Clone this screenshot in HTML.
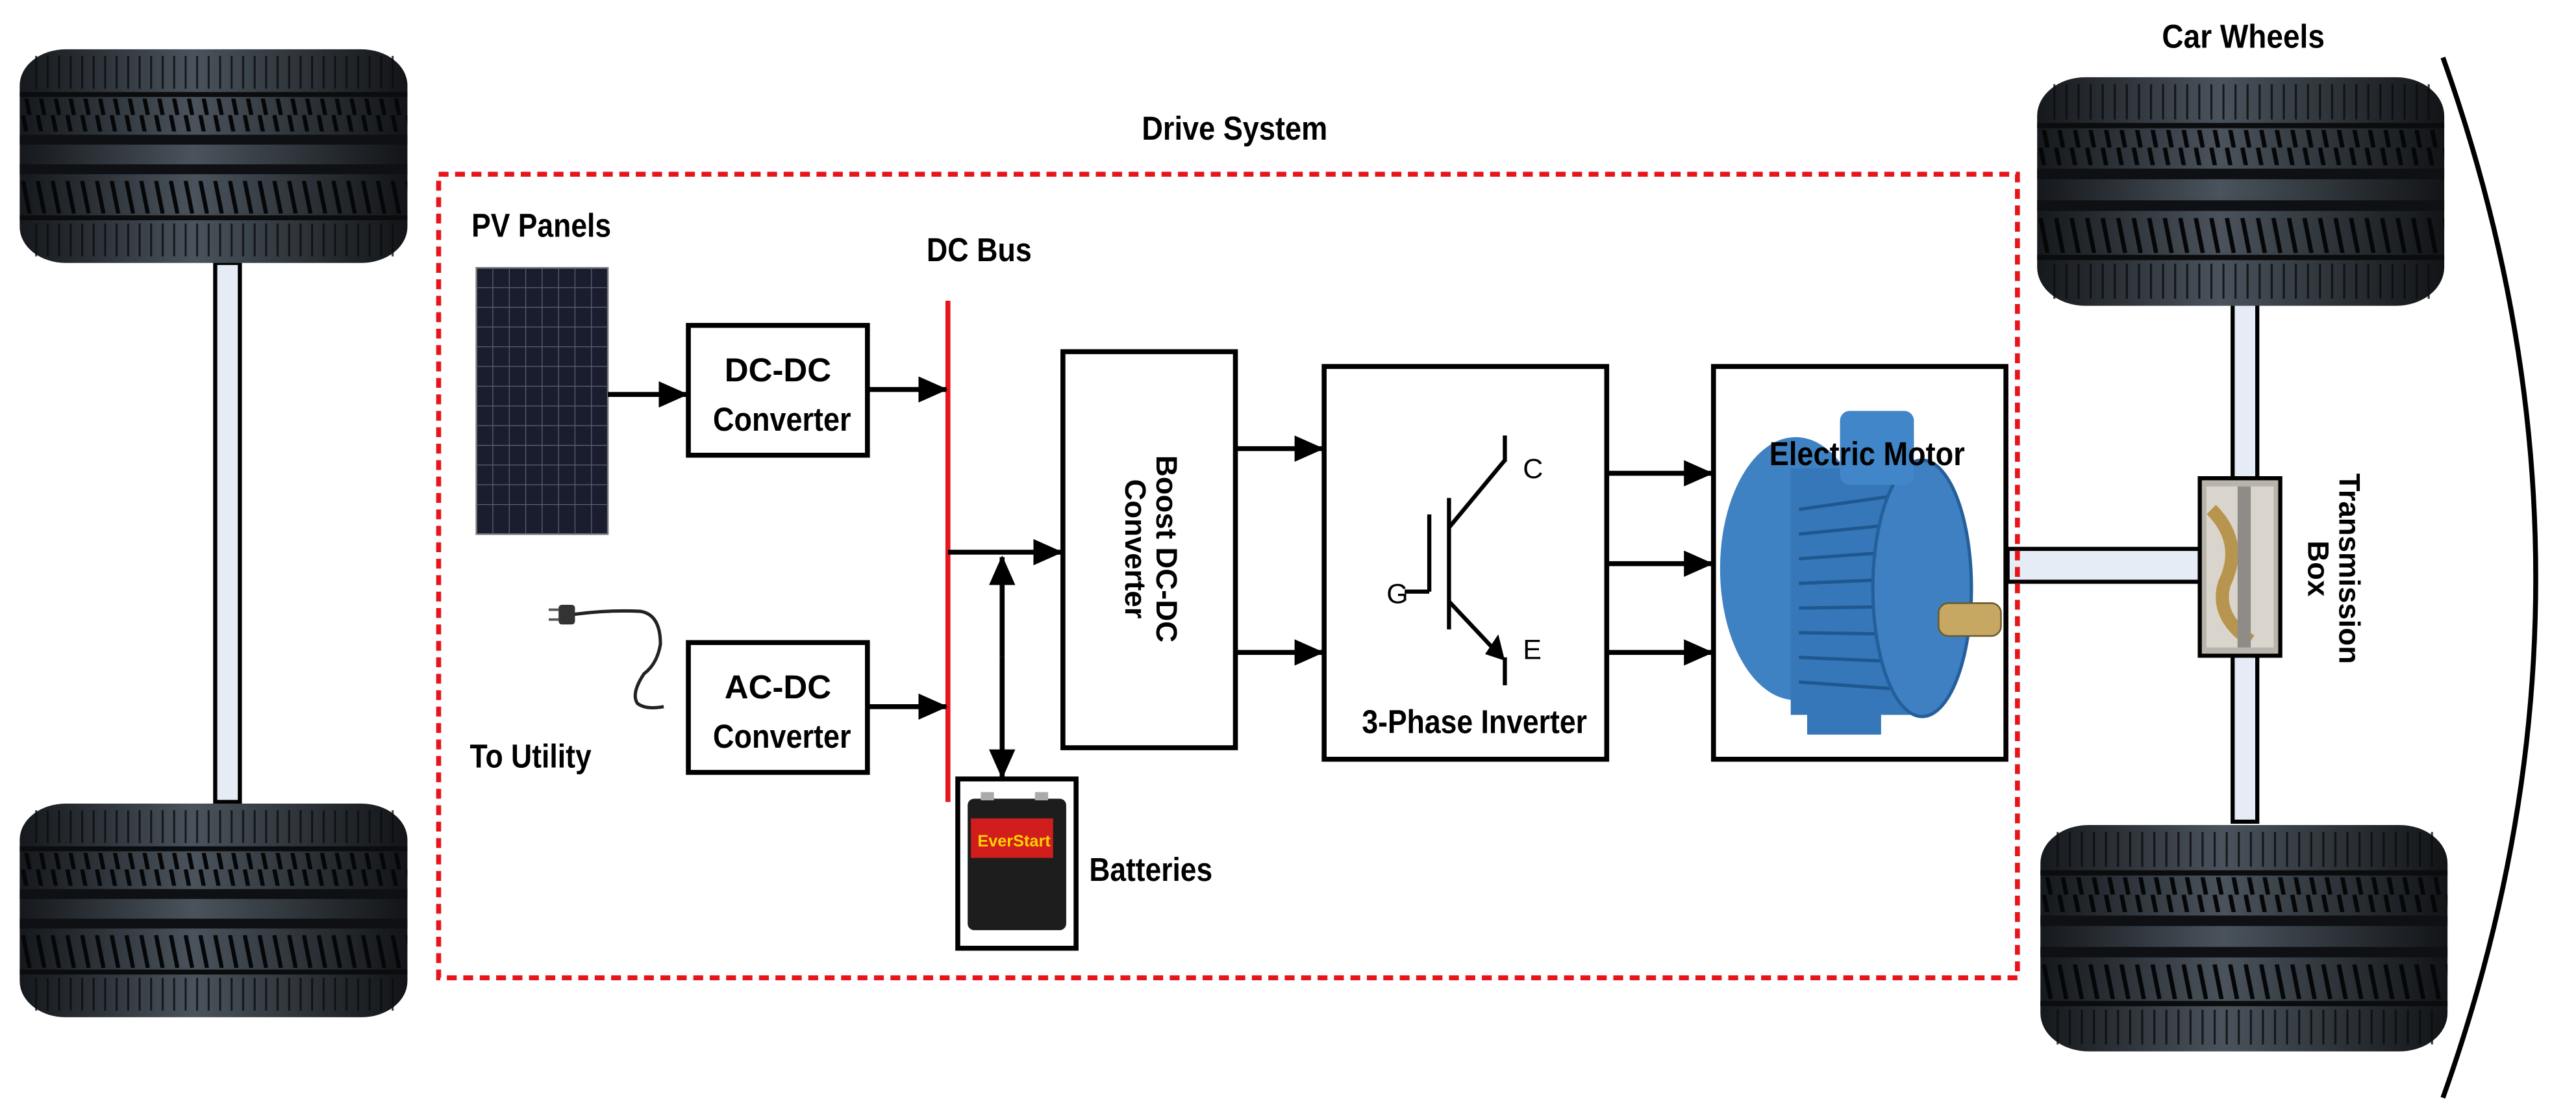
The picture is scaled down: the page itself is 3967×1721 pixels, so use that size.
<!DOCTYPE html>
<html><head><meta charset="utf-8"><style>
html,body{margin:0;padding:0;background:#fff;}
svg{display:block}
.t{font-family:"Liberation Sans",sans-serif;font-weight:bold;fill:#000}
.w{font-family:"Liberation Sans",sans-serif;font-weight:bold;fill:#000}
</style></head><body>
<svg width="3967" height="1721" viewBox="0 0 1568 680.3" preserveAspectRatio="none" xmlns="http://www.w3.org/2000/svg">
<defs>
<linearGradient id="tg" x1="0" y1="0" x2="1" y2="0">
<stop offset="0" stop-color="#15181c"/><stop offset="0.45" stop-color="#4a535c"/><stop offset="0.6" stop-color="#3a4249"/><stop offset="1" stop-color="#121417"/>
</linearGradient>
<pattern id="tread" width="9" height="20" patternUnits="userSpaceOnUse">
<rect width="9" height="20" fill="none"/><line x1="2" y1="0" x2="6" y2="20" stroke="#050607" stroke-width="2.5"/>
</pattern>
<pattern id="rib" width="7" height="20" patternUnits="userSpaceOnUse">
<line x1="3" y1="0" x2="3" y2="20" stroke="#0a0b0d" stroke-width="1.2"/>
</pattern>
<g id="tire">
<rect x="0" y="0" width="236" height="130" rx="28" ry="22" fill="url(#tg)"/>
<rect x="4" y="4" width="228" height="20" fill="url(#rib)" opacity="0.8"/>
<rect x="4" y="106" width="228" height="20" fill="url(#rib)" opacity="0.8"/>
<rect x="0" y="30" width="236" height="20" fill="url(#tread)"/>
<rect x="0" y="80" width="236" height="20" fill="url(#tread)"/>
<rect x="0" y="26" width="236" height="3" fill="#0b0c0e"/>
<rect x="0" y="52" width="236" height="6" fill="#0e1013"/>
<rect x="0" y="70" width="236" height="6" fill="#0e1013"/>
<rect x="0" y="101" width="236" height="3" fill="#0b0c0e"/>
</g>
<marker id="ah" markerWidth="18" markerHeight="16" refX="17" refY="8" orient="auto" markerUnits="userSpaceOnUse"><path d="M0,0 L18,8 L0,16 z" fill="#000"/></marker>
</defs>

<rect x="131" y="160" width="15" height="328" fill="#e6ecf5" stroke="#000" stroke-width="2.5"/>
<use href="#tire" x="12" y="30"/>
<use href="#tire" x="12" y="489"/>

<rect x="1359" y="180" width="15" height="320" fill="#e6ecf5" stroke="#000" stroke-width="2.5"/>
<use href="#tire" x="1240" y="47" transform="translate(1240 47) scale(1.05 1.07) translate(-1240 -47)"/>
<use href="#tire" x="1242" y="502" transform="translate(1242 502) scale(1.05 1.06) translate(-1242 -502)"/>
<rect x="1222" y="334" width="118" height="20" fill="#e6ecf5" stroke="#000" stroke-width="2.5"/>
<rect x="1339" y="291" width="49" height="108" fill="#b8b4ab" stroke="#000" stroke-width="2.5"/>
<rect x="1343" y="296" width="41" height="98" fill="#d9d5cc"/>
<path d="M1346,310 q20,20 8,45 q-6,20 16,35" stroke="#b8954f" stroke-width="8" fill="none"/>
<rect x="1362" y="296" width="8" height="98" fill="#8f8c88"/>

<path d="M1487,35 Q1600,352 1487,668" stroke="#000" stroke-width="3" fill="none"/>

<rect x="267" y="106" width="961" height="489" fill="none" stroke="#e8141b" stroke-width="3" stroke-dasharray="6,4"/>

<text class="t" x="695" y="85" font-size="20" textLength="113" lengthAdjust="spacingAndGlyphs">Drive System</text>
<text class="t" x="1316" y="29" font-size="20" textLength="99" lengthAdjust="spacingAndGlyphs">Car Wheels</text>
<text class="t" x="287" y="144" font-size="20" textLength="85" lengthAdjust="spacingAndGlyphs">PV Panels</text>
<text class="t" x="564" y="159" font-size="20" textLength="64" lengthAdjust="spacingAndGlyphs">DC Bus</text>
<text class="t" x="286" y="467" font-size="20" textLength="74" lengthAdjust="spacingAndGlyphs">To Utility</text>
<text class="t" x="663" y="536" font-size="20" textLength="75" lengthAdjust="spacingAndGlyphs">Batteries</text>

<rect x="290" y="163" width="80" height="162" fill="#1a1d2e" stroke="#777" stroke-width="1"/>
<g stroke="#5a6078" stroke-width="0.5">
<line x1="300" y1="163" x2="300" y2="325"/><line x1="310" y1="163" x2="310" y2="325"/><line x1="320" y1="163" x2="320" y2="325"/><line x1="330" y1="163" x2="330" y2="325"/><line x1="340" y1="163" x2="340" y2="325"/><line x1="350" y1="163" x2="350" y2="325"/><line x1="360" y1="163" x2="360" y2="325"/>
<line x1="290" y1="175" x2="370" y2="175"/><line x1="290" y1="187" x2="370" y2="187"/><line x1="290" y1="199" x2="370" y2="199"/><line x1="290" y1="211" x2="370" y2="211"/><line x1="290" y1="223" x2="370" y2="223"/><line x1="290" y1="235" x2="370" y2="235"/><line x1="290" y1="247" x2="370" y2="247"/><line x1="290" y1="259" x2="370" y2="259"/><line x1="290" y1="271" x2="370" y2="271"/><line x1="290" y1="283" x2="370" y2="283"/><line x1="290" y1="295" x2="370" y2="295"/><line x1="290" y1="307" x2="370" y2="307"/>
</g>

<path d="M348,374 q22,-3 42,-2 q12,2 12,20 q-2,12 -10,18 q-8,12 -4,18 q5,4 16,2" stroke="#222" stroke-width="2" fill="none"/>
<rect x="340" y="368" width="10" height="12" rx="2" fill="#333"/>
<line x1="334" y1="371" x2="340" y2="371" stroke="#555" stroke-width="1.5"/><line x1="334" y1="377" x2="340" y2="377" stroke="#555" stroke-width="1.5"/>

<g fill="#fff" stroke="#000" stroke-width="3">
<rect x="419" y="198" width="109" height="79"/>
<rect x="419" y="391" width="109" height="79"/>
<rect x="647" y="214" width="105" height="241"/>
<rect x="806" y="223" width="172" height="239"/>
<rect x="1043" y="223" width="178" height="239"/>
<rect x="583" y="474" width="72" height="103"/>
</g>
<text class="t" x="441" y="232" font-size="20" textLength="65" lengthAdjust="spacingAndGlyphs">DC-DC</text>
<text class="t" x="434" y="262" font-size="20" textLength="84" lengthAdjust="spacingAndGlyphs">Converter</text>
<text class="t" x="441" y="425" font-size="20" textLength="65" lengthAdjust="spacingAndGlyphs">AC-DC</text>
<text class="t" x="434" y="455" font-size="20" textLength="84" lengthAdjust="spacingAndGlyphs">Converter</text>
<g transform="translate(699 334) rotate(90)">
<text class="w" x="0" y="-5" font-size="18" text-anchor="middle">Boost DC-DC</text>
<text class="w" x="0" y="14" font-size="18" text-anchor="middle">Converter</text>
</g>
<g transform="translate(1418 346) rotate(90)">
<text class="w" x="0" y="-6" font-size="18" text-anchor="middle">Transmission</text>
<text class="w" x="0" y="13" font-size="18" text-anchor="middle">Box</text>
</g>

<line x1="577" y1="183" x2="577" y2="488" stroke="#e8141b" stroke-width="3"/>

<g stroke="#000" stroke-width="3" fill="none">
<line x1="370" y1="240" x2="418" y2="240" marker-end="url(#ah)"/>
<line x1="528" y1="237" x2="576" y2="237" marker-end="url(#ah)"/>
<line x1="528" y1="430" x2="576" y2="430" marker-end="url(#ah)"/>
<line x1="577" y1="336" x2="646" y2="336" marker-end="url(#ah)"/>
<line x1="610" y1="400" x2="610" y2="339" marker-end="url(#ah)"/>
<line x1="610" y1="400" x2="610" y2="473" marker-end="url(#ah)"/>
<line x1="752" y1="273" x2="805" y2="273" marker-end="url(#ah)"/>
<line x1="752" y1="397" x2="805" y2="397" marker-end="url(#ah)"/>
<line x1="978" y1="288" x2="1042" y2="288" marker-end="url(#ah)"/>
<line x1="978" y1="343" x2="1042" y2="343" marker-end="url(#ah)"/>
<line x1="978" y1="397" x2="1042" y2="397" marker-end="url(#ah)"/>
</g>

<g stroke="#000" stroke-width="2.5" fill="none">
<line x1="882" y1="303" x2="882" y2="383"/>
<line x1="870" y1="313" x2="870" y2="360"/>
<line x1="855" y1="360" x2="870" y2="360"/>
<line x1="882" y1="321" x2="916" y2="280"/>
<line x1="916" y1="265" x2="916" y2="281"/>
<line x1="882" y1="366" x2="914" y2="400"/>
<line x1="916" y1="400" x2="916" y2="417"/>
</g>
<path d="M916,402 l-12,-4 l8,-12 z" fill="#000"/>
<text x="927" y="291" font-family="Liberation Sans,sans-serif" font-size="17">C</text>
<text x="927" y="401" font-family="Liberation Sans,sans-serif" font-size="17">E</text>
<text x="844" y="367" font-family="Liberation Sans,sans-serif" font-size="17">G</text>
<text class="t" x="829" y="446" font-size="20" textLength="137" lengthAdjust="spacingAndGlyphs">3-Phase Inverter</text>

<g>
<ellipse cx="1093" cy="346" rx="46" ry="80" fill="#3f82c4"/>
<rect x="1090" y="285" width="75" height="150" fill="#3577b8"/>
<g stroke="#1f5890" stroke-width="2">
<line x1="1095" y1="310" x2="1165" y2="300"/><line x1="1095" y1="325" x2="1165" y2="318"/><line x1="1095" y1="340" x2="1165" y2="335"/><line x1="1095" y1="355" x2="1165" y2="352"/><line x1="1095" y1="370" x2="1165" y2="369"/><line x1="1095" y1="385" x2="1165" y2="386"/><line x1="1095" y1="400" x2="1165" y2="403"/><line x1="1095" y1="415" x2="1165" y2="420"/>
</g>
<ellipse cx="1170" cy="358" rx="30" ry="78" fill="#3e80c2" stroke="#245f9b" stroke-width="2"/>
<rect x="1120" y="250" width="45" height="45" rx="6" fill="#4186c8"/>
<rect x="1100" y="425" width="45" height="22" fill="#3577b8"/>
<rect x="1180" y="367" width="38" height="20" rx="6" fill="#c6a862" stroke="#6b5a2e" stroke-width="1"/>
</g>
<text class="t" x="1077" y="283" font-size="20" textLength="119" lengthAdjust="spacingAndGlyphs">Electric Motor</text>

<rect x="589" y="486" width="60" height="80" rx="4" fill="#1d1d1d"/>
<rect x="591" y="498" width="50" height="24" fill="#d21d1d"/>
<text x="595" y="515" font-family="Liberation Sans,sans-serif" font-weight="bold" font-size="10" fill="#ffd200">EverStart</text>
<rect x="597" y="482" width="8" height="5" fill="#aaa"/><rect x="630" y="482" width="8" height="5" fill="#aaa"/>
</svg>
</body></html>
